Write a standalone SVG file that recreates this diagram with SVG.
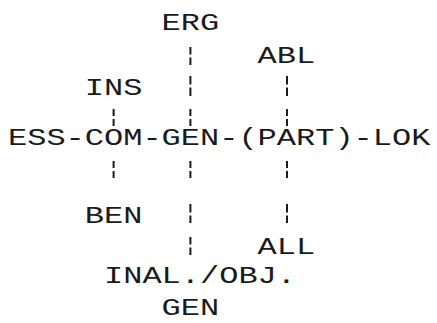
<svg xmlns="http://www.w3.org/2000/svg" width="437" height="323" viewBox="0 0 437 323">
<style>
.t{font-family:"Liberation Mono","Courier New",monospace;font-size:23.5px;fill:#1a1a1a}
.b{stroke:#1a1a1a;stroke-width:2;fill:none}
</style>
<rect width="437" height="323" fill="#ffffff"/>
<g id="connectors" class="b">
<path d="M190.4 47V54.5M190.4 57.5V65"/>
<path d="M190.4 76V84.5M190.4 87.5V96"/>
<path d="M190.4 109V116M190.4 119V126"/>
<path d="M190.4 161V168M190.4 171V178"/>
<path d="M190.4 204V212.5M190.4 215.5V223"/>
<path d="M190.4 237V244.5M190.4 247.5V255"/>
<path d="M287 76V84.5M287 87.5V96"/>
<path d="M287 109V116M287 119V126"/>
<path d="M287 161V168M287 171V178"/>
<path d="M287 204V212.5M287 215.5V223"/>
<path d="M113.6 109V116M113.6 119V126"/>
<path d="M113.6 161V168M113.6 171V178"/>
</g>
<g id="erg"><text class="t" x="161.6" y="30" textLength="57.6" lengthAdjust="spacingAndGlyphs">ERG</text></g>
<g id="abl"><text class="t" x="257.6" y="63" textLength="57.6" lengthAdjust="spacingAndGlyphs">ABL</text></g>
<g id="ins"><text class="t" x="84.8" y="95" textLength="57.6" lengthAdjust="spacingAndGlyphs">INS</text></g>
<g id="main"><text class="t" x="8" y="145" textLength="422.4" lengthAdjust="spacingAndGlyphs">ESS-COM-GEN-(PART)-LOK</text></g>
<g id="ben"><text class="t" x="84.8" y="223" textLength="57.6" lengthAdjust="spacingAndGlyphs">BEN</text></g>
<g id="all"><text class="t" x="257.6" y="254" textLength="57.6" lengthAdjust="spacingAndGlyphs">ALL</text></g>
<g id="inal-obj"><text class="t" x="104" y="283" textLength="192" lengthAdjust="spacingAndGlyphs">INAL./OBJ.</text></g>
<g id="gen"><text class="t" x="161.6" y="315" textLength="57.6" lengthAdjust="spacingAndGlyphs">GEN</text></g>
</svg>
